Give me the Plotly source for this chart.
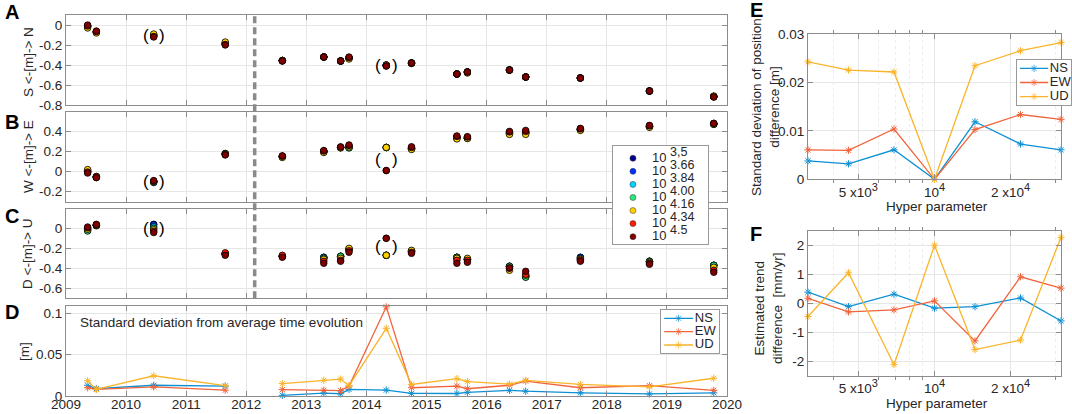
import plotly.graph_objects as go

W, H = 1072, 414

# observation epochs (decimal years) used in panels A-D
epochs = [2009.36, 2009.505, 2010.46, 2011.65, 2012.60, 2013.29, 2013.57, 2013.71,
          2014.33, 2014.75, 2015.505, 2015.68, 2016.38, 2016.65, 2017.56, 2018.71, 2019.78]
split_date = 2012.14
excluded = [2, 8]  # epochs shown in brackets

hyper_exp = [3.5, 3.66, 3.84, 4.00, 4.16, 4.34, 4.5]
hyper_labels = ["3,5", "3.66", "3.84", "4.00", "4.16", "4.34", "4.5"]
hyper_colors = ["#00008f", "#0030ff", "#00d4ff", "#2ee67a", "#ffd000", "#ff1a00", "#800000"]

# displacement [m] per hyper parameter (rows) and epoch (columns)
north = [
    [-0.01, -0.07, -0.11, -0.19, -0.355, -0.32, -0.36, -0.33, -0.40, -0.38, -0.49, -0.47, -0.45, -0.52, -0.53, -0.66, -0.715],
    [-0.01, -0.07, -0.11, -0.19, -0.355, -0.32, -0.36, -0.33, -0.40, -0.38, -0.49, -0.47, -0.45, -0.52, -0.53, -0.66, -0.715],
    [-0.01, -0.07, -0.10, -0.185, -0.355, -0.32, -0.36, -0.33, -0.405, -0.38, -0.49, -0.47, -0.45, -0.52, -0.53, -0.66, -0.715],
    [-0.02, -0.07, -0.10, -0.18, -0.355, -0.32, -0.36, -0.335, -0.405, -0.38, -0.49, -0.47, -0.45, -0.52, -0.53, -0.66, -0.715],
    [-0.03, -0.08, -0.09, -0.17, -0.355, -0.32, -0.36, -0.34, -0.40, -0.385, -0.49, -0.48, -0.45, -0.52, -0.53, -0.66, -0.71],
    [-0.01, -0.065, -0.115, -0.195, -0.36, -0.32, -0.36, -0.325, -0.41, -0.38, -0.49, -0.47, -0.45, -0.52, -0.53, -0.66, -0.72],
    [0.0, -0.06, -0.12, -0.20, -0.36, -0.32, -0.36, -0.32, -0.41, -0.38, -0.49, -0.47, -0.45, -0.52, -0.53, -0.66, -0.72],
]
east = [
    [0.0, -0.05, -0.10, 0.175, 0.15, 0.20, 0.24, 0.24, 0.24, 0.23, 0.34, 0.335, 0.385, 0.39, 0.42, 0.45, 0.475],
    [0.0, -0.05, -0.10, 0.175, 0.15, 0.20, 0.24, 0.24, 0.24, 0.23, 0.34, 0.335, 0.385, 0.39, 0.42, 0.45, 0.475],
    [0.005, -0.055, -0.105, 0.18, 0.15, 0.20, 0.24, 0.24, 0.24, 0.23, 0.335, 0.335, 0.38, 0.385, 0.42, 0.45, 0.475],
    [0.01, -0.055, -0.11, 0.18, 0.148, 0.195, 0.24, 0.235, 0.24, 0.225, 0.33, 0.33, 0.375, 0.38, 0.415, 0.445, 0.47],
    [0.02, -0.05, -0.10, 0.175, 0.14, 0.19, 0.235, 0.245, 0.24, 0.22, 0.325, 0.33, 0.37, 0.37, 0.41, 0.44, 0.47],
    [-0.005, -0.06, -0.095, 0.17, 0.152, 0.205, 0.245, 0.26, 0.01, 0.24, 0.35, 0.345, 0.395, 0.40, 0.425, 0.455, 0.48],
    [-0.015, -0.06, -0.09, 0.165, 0.157, 0.21, 0.245, 0.265, 0.01, 0.247, 0.355, 0.347, 0.40, 0.41, 0.43, 0.46, 0.48],
]
up = [
    [0.0, 0.03, 0.04, -0.255, -0.28, -0.29, -0.28, -0.21, -0.27, -0.23, -0.29, -0.31, -0.38, -0.48, -0.29, -0.33, -0.37],
    [-0.01, 0.03, 0.037, -0.255, -0.28, -0.29, -0.28, -0.21, -0.27, -0.23, -0.29, -0.31, -0.38, -0.48, -0.29, -0.33, -0.37],
    [-0.02, 0.03, 0.015, -0.255, -0.28, -0.29, -0.28, -0.21, -0.27, -0.23, -0.29, -0.31, -0.38, -0.485, -0.30, -0.33, -0.37],
    [-0.027, 0.025, 0.0, -0.255, -0.28, -0.30, -0.28, -0.21, -0.27, -0.225, -0.29, -0.31, -0.38, -0.49, -0.31, -0.33, -0.37],
    [-0.01, 0.03, -0.015, -0.26, -0.28, -0.31, -0.30, -0.20, -0.27, -0.22, -0.30, -0.30, -0.42, -0.47, -0.31, -0.34, -0.39],
    [0.005, 0.035, -0.03, -0.245, -0.27, -0.33, -0.32, -0.225, -0.10, -0.24, -0.32, -0.32, -0.40, -0.46, -0.32, -0.35, -0.42],
    [0.013, 0.04, -0.043, -0.27, -0.29, -0.35, -0.33, -0.24, -0.10, -0.25, -0.35, -0.34, -0.395, -0.43, -0.33, -0.36, -0.44],
]

# standard deviation from average time evolution [m]
std_ns = [0.013, 0.009, 0.013, 0.012, 0.0008, 0.0035, 0.0027, 0.008, 0.0072, 0.0032, 0.003, 0.0045, 0.0069, 0.0058, 0.0038, 0.0025, 0.0038]
std_ew = [0.010, 0.008, 0.011, 0.007, 0.0077, 0.007, 0.0065, 0.012, 0.108, 0.010, 0.012, 0.0088, 0.013, 0.018, 0.010, 0.0125, 0.0069]
std_ud = [0.0185, 0.008, 0.0245, 0.0125, 0.015, 0.019, 0.0205, 0.0125, 0.082, 0.014, 0.021, 0.0175, 0.0145, 0.019, 0.014, 0.011, 0.0215]

# panel E: std of position difference [m], panel F: trend difference [mm/yr]
pos_ns = [0.0038, 0.0032, 0.0061, 0.0, 0.0119, 0.0073, 0.0061]
pos_ew = [0.0061, 0.0060, 0.0104, 0.0, 0.0103, 0.0134, 0.0124]
pos_ud = [0.0243, 0.0226, 0.0222, 0.0, 0.0235, 0.0266, 0.0283]
trend_ns = [0.38, -0.12, 0.31, -0.17, -0.12, 0.18, -0.61]
trend_ew = [0.17, -0.30, -0.23, 0.08, -1.30, 0.91, 0.52]
trend_ud = [-0.46, 1.05, -2.12, 2.0, -1.6, -1.27, 2.27]

comp_names = ["NS", "EW", "UD"]
comp_colors = ["#0d8fd3", "#f0643c", "#f9b42a"]

FONT = "Liberation Sans, Arial, sans-serif"
TXT = "#262626"
BOX = "#8c8c8c"
GRID = "#e6e6e6"


def fx(px):
    return px / W


def fy(py):
    return 1 - py / H


def fmt(v):
    return f"{v:g}"


def sup(s, size=11):
    return f"<sup><span style='font-size:{size}px'>{s}</span></sup>"


hyper = [10 ** e for e in hyper_exp]

fig = go.Figure()

# panels A-C: positions for each hyper parameter
panels = [(north, "x", "y"), (east, "x2", "y2"), (up, "x3", "y3")]
for data, xa, ya in panels:
    for k, row in enumerate(data):
        fig.add_trace(go.Scatter(
            x=epochs, y=row, mode="markers", xaxis=xa, yaxis=ya, showlegend=False,
            marker=dict(size=6.5, color=hyper_colors[k], line=dict(width=0.8, color="black")),
        ))


def split_gap(xs, ys):
    ox, oy = [], []
    for i, (a, b) in enumerate(zip(xs, ys)):
        if i > 0 and xs[i - 1] < split_date < a:
            ox.append(None)
            oy.append(None)
        ox.append(a)
        oy.append(b)
    return ox, oy


def star_line(c, size=6):
    return dict(line=dict(color=c, width=1.3), cliponaxis=False,
                marker=dict(symbol="asterisk-open", size=size, color=c, line=dict(width=1, color=c)))


# panel D
for series, c in zip([std_ns, std_ew, std_ud], comp_colors):
    gx, gy = split_gap(epochs, series)
    fig.add_trace(go.Scatter(x=gx, y=gy, mode="lines+markers", xaxis="x4", yaxis="y4",
                             showlegend=False, connectgaps=False, **star_line(c)))

# panels E and F
for series, c in zip([pos_ns, pos_ew, pos_ud], comp_colors):
    fig.add_trace(go.Scatter(x=hyper, y=series, mode="lines+markers", xaxis="x5", yaxis="y5",
                             showlegend=False, **star_line(c)))
for series, c in zip([trend_ns, trend_ew, trend_ud], comp_colors):
    fig.add_trace(go.Scatter(x=hyper, y=series, mode="lines+markers", xaxis="x6", yaxis="y6",
                             showlegend=False, **star_line(c)))

# hand-built legends (tight row spacing like the original)
n = len(hyper_colors)
fig.add_trace(go.Scatter(
    x=[0.21] * n, y=list(range(n)), mode="markers", xaxis="x7", yaxis="y7", showlegend=False,
    marker=dict(size=6, color=hyper_colors, line=dict(width=0.5, color="#333")),
))
fig.add_trace(go.Scatter(
    x=[0.41] * n, y=list(range(n)), mode="text", xaxis="x7", yaxis="y7", showlegend=False,
    text=[f"10 {sup(s, 12.5)}" for s in hyper_labels], textposition="middle right",
    textfont=dict(size=13, color=TXT, family=FONT),
))
for xa, ya, xl in [("x8", "y8", (0.06, 0.306, 0.555)), ("x9", "y9", (0.06, 0.32, 0.58))]:
    for k, c in enumerate(comp_colors):
        fig.add_trace(go.Scatter(x=list(xl), y=[k, k, k], mode="lines+markers", xaxis=xa, yaxis=ya,
                                 showlegend=False, **star_line(c, size=[0, 6, 0])))
    fig.add_trace(go.Scatter(
        x=[xl[2] + 0.03] * 3, y=[0, 1, 2], mode="text", xaxis=xa, yaxis=ya, showlegend=False,
        text=comp_names, textposition="middle right", textfont=dict(size=13, color=TXT, family=FONT),
    ))

base = dict(showline=True, linecolor=BOX, linewidth=1, mirror="ticks", ticks="inside",
            ticklen=5, tickcolor=BOX, showgrid=True, gridcolor=GRID, gridwidth=1,
            zeroline=False, automargin=False, tickfont=dict(size=13.5, color=TXT, family=FONT))

left = [fx(66), fx(727)]
years = list(range(2009, 2021))
layout = dict(
    template="none",
    width=W, height=H, margin=dict(l=0, r=0, t=0, b=0, pad=0), autosize=False,
    paper_bgcolor="white", plot_bgcolor="white",
    font=dict(family=FONT, color=TXT), showlegend=False,
)

rows = [
    ("", "y", (15, 105), (-0.8, 0.1), [0, -0.2, -0.4, -0.6, -0.8]),
    ("2", "y2", (112.3, 201.7), (-0.3, 0.59), [-0.2, 0, 0.2, 0.4]),
    ("3", "y3", (209.3, 298.3), (-0.7, 0.19), [-0.6, -0.4, -0.2, 0]),
    ("4", "y4", (306, 396), (0, 0.109), [0, 0.05, 0.1]),
]
for sfx, ya, (t, b), rng, tv in rows:
    layout["xaxis" + sfx] = dict(base, domain=left, range=[2009, 2020], tickvals=years,
                                 showticklabels=(sfx == "4"), anchor=ya, ticklabelstandoff=-4)
    layout["yaxis" + sfx] = dict(base, domain=[fy(b), fy(t)], range=list(rng), tickvals=tv,
                                 ticktext=[fmt(v) for v in tv], anchor="x" + sfx)

log_minor = dict(tickvals=[4000, 6000, 7000, 8000, 9000, 30000], ticklen=3, tickcolor=BOX,
                 showgrid=True, gridcolor="#ececec", griddash="dot")
right = [fx(808), fx(1061)]
for sfx, (t, b), rng, tv in [("5", (34.3, 179.3), (0, 0.03), [0, 0.01, 0.02, 0.03]),
                             ("6", (230.7, 375.7), (-2.5, 2.5), [-2, -1, 0, 1, 2])]:
    layout["xaxis" + sfx] = dict(base, domain=right, type="log", range=[3.5, 4.5],
                                 tickvals=[5000, 10000, 20000],
                                 ticktext=[f"5 x10{sup(3)}", f"10{sup(4)}", f"2 x10{sup(4)}"],
                                 minor=log_minor, anchor="y" + sfx)
    layout["yaxis" + sfx] = dict(base, domain=[fy(b), fy(t)], range=list(rng), tickvals=tv,
                                 ticktext=[fmt(v) for v in tv], anchor="x" + sfx)

legend_boxes = [
    ("7", (613, 708), (146, 244), (6.56, -0.94)),
    ("8", (660.7, 719), (310, 353.3), (2.62, -0.62)),
    ("9", (1016.7, 1071), (60, 105), (2.6, -0.6)),
]
shapes = []
hidden = dict(showgrid=False, zeroline=False, showticklabels=False, ticks="", automargin=False,
              showline=True, mirror=True, linecolor="#999999", linewidth=1, fixedrange=True)
for sfx, (l, r), (t, b), yr in legend_boxes:
    layout["xaxis" + sfx] = dict(hidden, domain=[fx(l), fx(r)], range=[0, 1], anchor="y" + sfx)
    layout["yaxis" + sfx] = dict(hidden, domain=[fy(b), fy(t)], range=list(yr), anchor="x" + sfx)
    shapes.append(dict(type="rect", xref=f"x{sfx} domain", yref=f"y{sfx} domain",
                       x0=0, x1=1, y0=0, y1=1, fillcolor="white", line=dict(width=0), layer="below"))

# dashed separator across panels A-C
shapes.append(dict(type="line", xref="x", yref="paper", x0=split_date, x1=split_date,
                   y0=fy(298.3), y1=fy(15), line=dict(color="#8a8a8a", width=3.5, dash="7px,4px")))
layout["shapes"] = shapes

ann = []


def label(text, x, y, size=13.5, angle=0, color=TXT, xanchor="center"):
    ann.append(dict(text=text, x=fx(x), y=fy(y), xref="paper", yref="paper", showarrow=False,
                    xanchor=xanchor, yanchor="middle", textangle=angle,
                    font=dict(size=size, color=color, family=FONT)))


for letter, x, y in [("A", 12, 12), ("B", 12, 122), ("C", 12, 216), ("D", 12, 312),
                     ("E", 756, 10), ("F", 756, 234)]:
    label(f"<b>{letter}</b>", x, y, size=20, color="black")

label("S <-[m]-> N", 28, 62, angle=-90)
label("W <-[m]-> E", 28, 157, angle=-90)
label("D <-[m]-> U", 28, 254, angle=-90)
label("[m]", 24, 352, angle=-90)
label("Standard deviation of position<br>difference [m]", 765, 107, angle=-90)
label("Estimated trend<br>difference  [mm/yr]", 768, 308, angle=-90)
label("Hyper parameter", 937, 206)
label("Hyper parameter", 937, 403)
label("Standard deviation from average time evolution", 78, 322.7, xanchor="left")

# brackets around excluded epochs
for data, xa, ya in panels:
    for i in excluded:
        vals = [row[i] for row in data]
        yc = (max(vals) + min(vals)) / 2
        for dx, ch in [(-0.135, "("), (0.14, ")")]:
            ann.append(dict(text=ch, x=epochs[i] + dx, y=yc, xref=xa, yref=ya, showarrow=False,
                            xanchor="center", yanchor="middle",
                            font=dict(size=17, color="black", family=FONT)))

layout["annotations"] = ann
fig.update_layout(**layout)

# the page's default body margin would shift the figure by 8px
fig.write_html("out.html", config={"displayModeBar": False},
               post_script="document.body.style.margin='0';")
